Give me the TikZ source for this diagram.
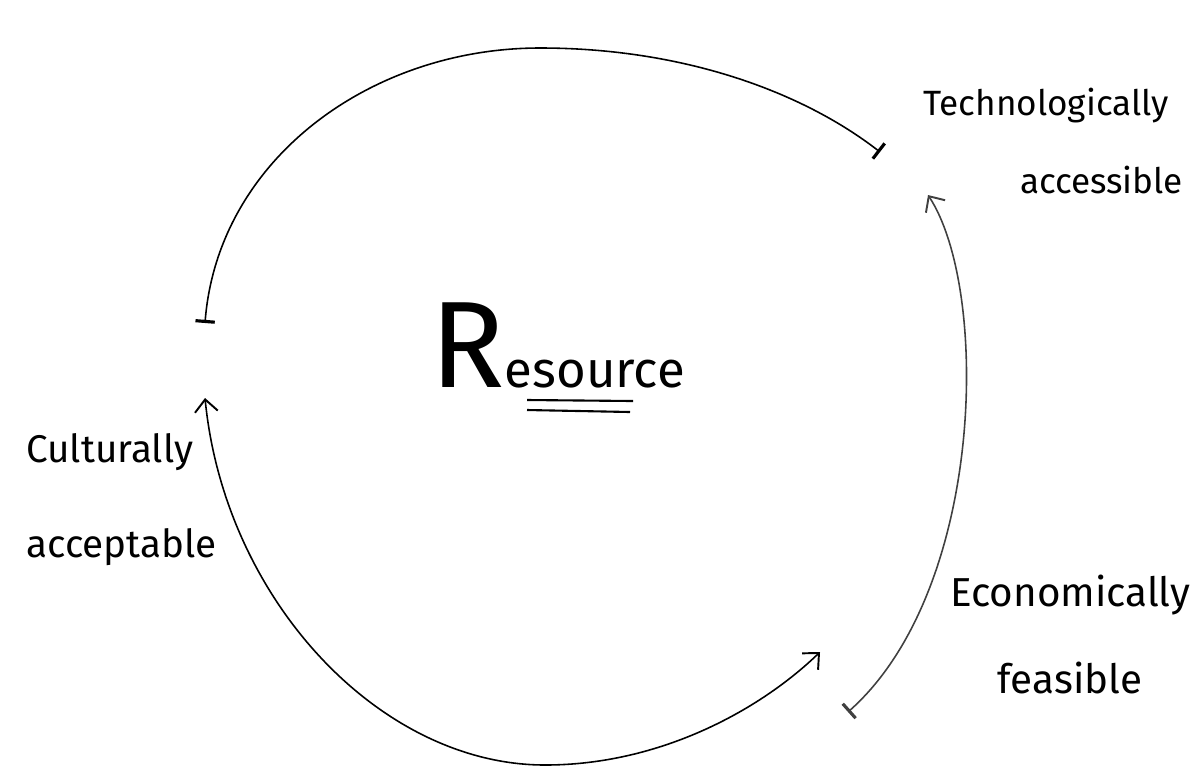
\documentclass[tikz,border=0pt]{standalone}
\usepackage{fontspec}
\setmainfont{Fira Sans}
\usetikzlibrary{arrows.meta, positioning}

\begin{document}
\begin{tikzpicture}[
        x=0.02cm, y=-0.02cm,
        lbl/.style={align=left, inner sep=0pt, anchor=base west},
        cyc/.style={line width=0.9pt},
        barb/.tip={Straight Barb[length=7pt, width=13pt, line width=1.1pt]},
        stopbar/.tip={Bar[width=11pt, line width=1.8pt]}
        ]
        \useasboundingbox (0,0) rectangle (1195,775);

        \node[lbl, font=\fontsize{20}{44}\selectfont] (tech) at (923,193) {Technologically\\\hspace*{55pt}accessible};
        \node[lbl, font=\fontsize{22}{54}\selectfont] (cult) at (26,557) {Culturally\\[0pt]acceptable};
        \node[lbl, font=\fontsize{23}{49}\selectfont] (econ) at (950,693) {Economically\\\hspace*{27pt}feasible};
        \node[lbl] (res) at (430,387) {{\fontsize{70}{70}\selectfont R}{\fontsize{29}{36}\selectfont esource}};

        % ends of the three arcs
        \coordinate (culA) at (205,323);
        \coordinate (techA) at (880,152);
        \coordinate (techB) at (928,195);
        \coordinate (econA) at (848,712);
        \coordinate (econB) at (820,652);
        \coordinate (culB) at (205,398);

        \draw[cyc, stopbar-stopbar] (culA) .. controls (218,160) and (370,48) .. (540,48)
            .. controls (680,48) and (800,90) .. (techA);
        \draw[cyc, black!75, stopbar-barb] (econA) .. controls (985,590) and (990,290) .. (techB);
        \draw[cyc, barb-barb] (culB) .. controls (225,600) and (380,765) .. (545,765)
            .. controls (660,765) and (760,710) .. (econB);

        % double underline
        \draw[line width=1.2pt] (527,400) -- (633,401);
        \draw[line width=1.2pt] (527,410) -- (630,412);
\end{tikzpicture}
\end{document}
